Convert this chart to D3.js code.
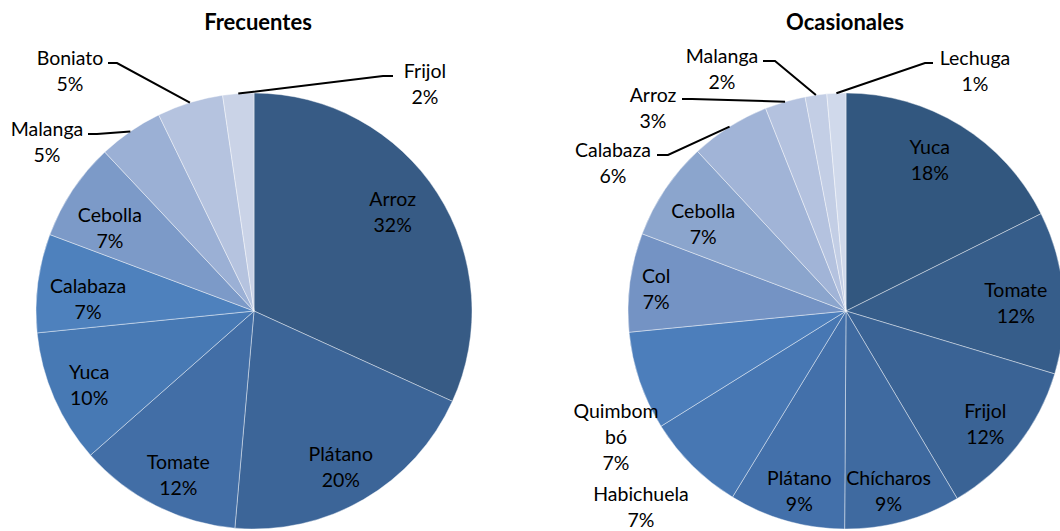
<!DOCTYPE html>
<html>
<head>
<meta charset="utf-8">
<script src="https://cdn.jsdelivr.net/npm/d3@7"></script>
<style>
  html, body { margin: 0; padding: 0; background: #fff; }
  svg { display: block; }
  text { font-family: Lato, "Open Sans", sans-serif; fill: #000; }
</style>
</head>
<body>
<svg id="chart" width="1060" height="531"></svg>
<script>
// ---- Data ----
const frecCategories = ["Arroz", "Plátano", "Tomate", "Yuca", "Calabaza", "Cebolla", "Malanga", "Boniato", "Frijol"];
const frecValues     = [31.8, 19.6, 12.1, 9.9, 7.3, 7.3, 4.8, 4.9, 2.3];
const frecColors     = ["#375B85", "#3C6598", "#426EA6", "#4779B4", "#4E81BD", "#7C9AC8", "#9BB0D5", "#B5C3DF", "#CAD3E7"];

const ocaCategories = ["Yuca", "Tomate", "Frijol", "Chícharos", "Plátano", "Habichuela", "Quimbombó", "Col", "Cebolla", "Calabaza", "Arroz", "Malanga", "Lechuga"];
const ocaValues     = [17.6, 12.0, 11.8, 8.6, 8.6, 7.4, 7.3, 7.3, 7.3, 5.9, 3.0, 1.6, 1.4];
const ocaColors     = ["#32577F", "#365D8A", "#3A6395", "#3F6AA0", "#4370AA", "#4777B3", "#4C7EBB", "#7493C4", "#8BA5CD", "#A1B4D7", "#B4C2DF", "#C3CEE5", "#D0D9EB"];

const titles = ["Frecuentes", "Ocasionales"];

// ---- Layout (label placement, relative to pie centre) ----
const frecOutside = {
  "Malanga": { lines: ["Malanga"], at: [-207, -182], start: [-166, -177], elbow: [-157, -177] },
  "Boniato": { lines: ["Boniato"], at: [-184, -253], start: [-146, -248], elbow: [-137, -248] },
  "Frijol":  { lines: ["Frijol"],  at: [171, -240],  start: [139, -235],  elbow: [129, -235] }
};
const frecNudge = {
  "Arroz": [-8, -4], "Plátano": [-1, 6], "Tomate": [3, 9], "Yuca": [-5, 4], "Calabaza": [7, 11], "Cebolla": [1, 14]
};
const ocaOutside = {
  "Lechuga":    { lines: ["Lechuga"],  at: [129, -253],  start: [87, -248],   elbow: [79, -248] },
  "Malanga":    { lines: ["Malanga"],  at: [-124, -255], start: [-83, -250],  elbow: [-71, -250] },
  "Arroz":      { lines: ["Arroz"],    at: [-193, -216], start: [-164, -212], elbow: [-154, -212] },
  "Calabaza":   { lines: ["Calabaza"], at: [-233, -161], start: [-189, -156], elbow: [-178, -156] },
  "Quimbombó":  { lines: ["Quimbom", "bó"], at: [-230, 100] },
  "Habichuela": { lines: ["Habichuela"], at: [-205, 183] }
};
const ocaNudge = {
  "Yuca": [-8, -3], "Tomate": [-4, 7], "Frijol": [2, 6], "Chícharos": [-3, 12], "Plátano": [1, 12], "Col": [-17, 1], "Cebolla": [2, 10]
};

const svg = d3.select("#chart");
const R = 218;
const lineH = 26;

function drawPie(cx, cy, titleDx, title, cats, vals, colors, outside, nudge) {
  const g = svg.append("g").attr("transform", `translate(${cx},${cy})`);
  const total = d3.sum(vals);
  const data = cats.map((c, i) => ({ cat: c, value: vals[i], color: colors[i] }));
  const pie = d3.pie().sort(null).value(d => d.value);
  const arcs = pie(data);
  const arc = d3.arc().innerRadius(0).outerRadius(R);
  const labelArc = d3.arc().innerRadius(R * 0.8).outerRadius(R * 0.8);
  const edgeArc = d3.arc().innerRadius(R).outerRadius(R);

  g.selectAll("path.slice").data(arcs).join("path")
    .attr("class", "slice")
    .attr("d", arc)
    .attr("fill", d => d.data.color)
    .attr("stroke", "#ffffff")
    .attr("stroke-opacity", 0.6)
    .attr("stroke-width", 0.7);

  svg.append("text")
    .attr("x", cx + titleDx).attr("y", 22)
    .attr("dy", "0.35em")
    .attr("text-anchor", "middle")
    .attr("font-weight", "bold")
    .attr("font-size", 22)
    .text(title);

  arcs.forEach(a => {
    const pct = Math.round(a.data.value / total * 100) + "%";
    const o = outside[a.data.cat];
    let x, y, lines;
    if (o) {
      x = o.at[0]; y = o.at[1];
      lines = o.lines.concat([pct]);
      if (o.start) {
        const e = edgeArc.centroid(a);
        g.append("path")
          .attr("d", d3.line()([o.start, o.elbow, e]))
          .attr("fill", "none")
          .attr("stroke", "#000")
          .attr("stroke-width", 2);
      }
    } else {
      const c = labelArc.centroid(a);
      const n = nudge[a.data.cat] || [0, 0];
      x = c[0] + n[0];
      lines = [a.data.cat, pct];
      y = c[1] + n[1] - lineH * (lines.length - 1) / 2;
    }
    const t = g.append("text")
      .attr("text-anchor", "middle")
      .attr("font-size", 19.5);
    lines.forEach((ln, i) => {
      t.append("tspan")
        .attr("x", x)
        .attr("y", y + i * lineH)
        .attr("dy", "0.35em")
        .text(ln);
    });
  });
}

drawPie(254, 311, 4, titles[0], frecCategories, frecValues, frecColors, frecOutside, frecNudge);
drawPie(846, 311, -1, titles[1], ocaCategories, ocaValues, ocaColors, ocaOutside, ocaNudge);
</script>
</body>
</html>
